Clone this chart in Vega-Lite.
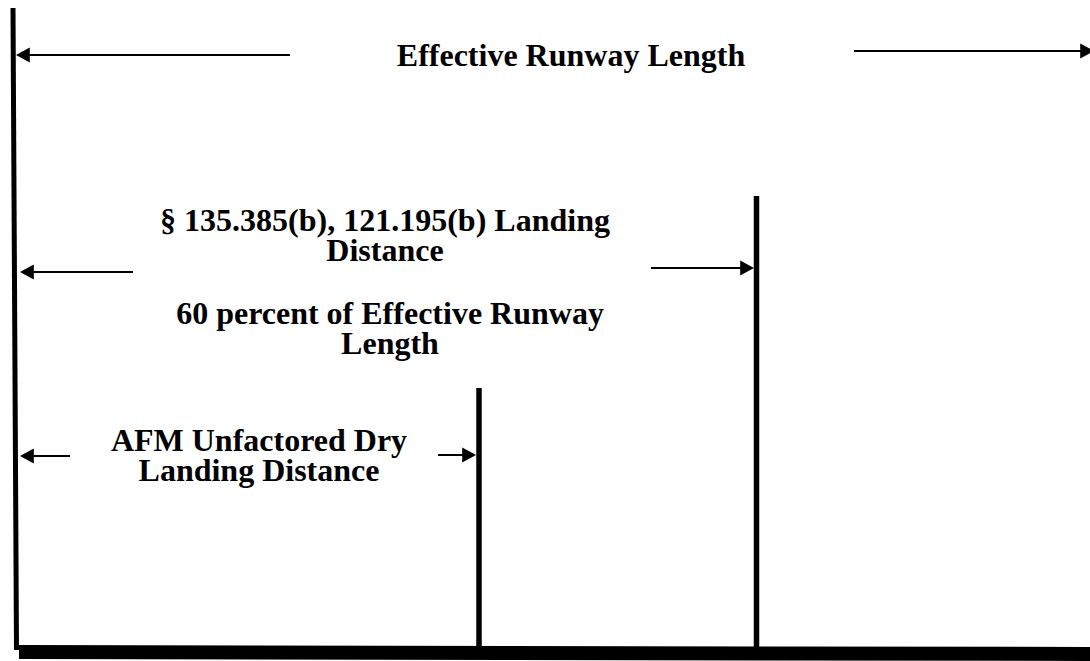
{
  "$schema": "https://vega.github.io/schema/vega-lite/v6.json",
  "width": 1090,
  "height": 661,
  "autosize": {"type": "fit", "contains": "padding"},
  "padding": 0,
  "background": "white",
  "config": {"view": {"stroke": null}},
  "datasets": {
    "frame": [
      {"part": "left", "x": 13, "y": 8, "x2": 16.5, "y2": 650},
      {"part": "base", "x": 19, "y": 652, "x2": 1090, "y2": 654}
    ],
    "markers": [
      {"name": "AFM unfactored dry landing distance", "x": 479, "top": 388, "bottom": 648},
      {"name": "Landing distance limit", "x": 756.5, "top": 196, "bottom": 648}
    ],
    "shafts": [
      {"measure": "Effective runway length (left)", "x": 290, "x2": 24, "y": 55},
      {"measure": "Effective runway length (right)", "x": 854, "x2": 1085, "y": 51},
      {"measure": "Landing distance (left)", "x": 133, "x2": 28, "y": 272},
      {"measure": "Landing distance (right)", "x": 651, "x2": 745, "y": 268},
      {"measure": "AFM distance (left)", "x": 70, "x2": 28, "y": 456},
      {"measure": "AFM distance (right)", "x": 438, "x2": 468, "y": 455}
    ],
    "heads": [
      {"measure": "Effective runway length", "dir": "left", "x": 16, "y": 55},
      {"measure": "Effective runway length", "dir": "right", "x": 1094, "y": 51},
      {"measure": "Landing distance", "dir": "left", "x": 20, "y": 272},
      {"measure": "Landing distance", "dir": "right", "x": 754, "y": 268},
      {"measure": "AFM distance", "dir": "left", "x": 20, "y": 456},
      {"measure": "AFM distance", "dir": "right", "x": 476, "y": 455}
    ],
    "labels": [
      {"text": "Effective Runway Length", "x": 571, "y": 66},
      {"text": "§ 135.385(b), 121.195(b) Landing\nDistance", "x": 385, "y": 231},
      {"text": "60 percent of Effective Runway\nLength", "x": 390, "y": 324},
      {"text": "AFM Unfactored Dry\nLanding Distance", "x": 259, "y": 451}
    ]
  },
  "encoding": {},
  "layer": [
    {
      "data": {"name": "frame"},
      "transform": [{"filter": "datum.part == 'left'"}],
      "mark": {"type": "rule", "color": "black", "strokeWidth": 5},
      "encoding": {
        "x": {"field": "x", "type": "quantitative", "scale": {"domain": [0, 1090], "nice": false, "zero": false}, "axis": null},
        "y": {"field": "y", "type": "quantitative", "scale": {"domain": [0, 661], "nice": false, "zero": false, "reverse": true}, "axis": null},
        "x2": {"field": "x2"},
        "y2": {"field": "y2"}
      }
    },
    {
      "data": {"name": "frame"},
      "transform": [{"filter": "datum.part == 'base'"}],
      "mark": {"type": "rule", "color": "black", "strokeWidth": 14, "clip": true},
      "encoding": {
        "x": {"field": "x", "type": "quantitative", "axis": null},
        "y": {"field": "y", "type": "quantitative", "axis": null},
        "x2": {"field": "x2"},
        "y2": {"field": "y2"}
      }
    },
    {
      "data": {"name": "markers"},
      "mark": {"type": "rule", "color": "black", "strokeWidth": 5.5},
      "encoding": {
        "x": {"field": "x", "type": "quantitative", "axis": null},
        "y": {"field": "top", "type": "quantitative", "axis": null},
        "y2": {"field": "bottom"}
      }
    },
    {
      "data": {"name": "shafts"},
      "mark": {"type": "rule", "color": "black", "strokeWidth": 2},
      "encoding": {
        "x": {"field": "x", "type": "quantitative", "axis": null},
        "x2": {"field": "x2"},
        "y": {"field": "y", "type": "quantitative", "axis": null}
      }
    },
    {
      "data": {"name": "heads"},
      "transform": [{"filter": "datum.dir == 'left'"}],
      "mark": {"type": "point", "filled": true, "color": "black", "opacity": 1, "shape": "M0,0L1,-0.55L1,0.55Z", "size": 760},
      "encoding": {
        "x": {"field": "x", "type": "quantitative", "axis": null},
        "y": {"field": "y", "type": "quantitative", "axis": null}
      }
    },
    {
      "data": {"name": "heads"},
      "transform": [{"filter": "datum.dir == 'right'"}],
      "mark": {"type": "point", "filled": true, "color": "black", "opacity": 1, "shape": "M0,0L-1,-0.55L-1,0.55Z", "size": 760, "clip": true},
      "encoding": {
        "x": {"field": "x", "type": "quantitative", "axis": null},
        "y": {"field": "y", "type": "quantitative", "axis": null}
      }
    },
    {
      "data": {"name": "labels"},
      "mark": {"type": "text", "font": "Liberation Serif", "fontWeight": "bold", "fontSize": 32, "lineHeight": 30, "align": "center", "baseline": "alphabetic", "lineBreak": "\n", "color": "black"},
      "encoding": {
        "x": {"field": "x", "type": "quantitative", "axis": null},
        "y": {"field": "y", "type": "quantitative", "axis": null},
        "text": {"field": "text"}
      }
    }
  ]
}
